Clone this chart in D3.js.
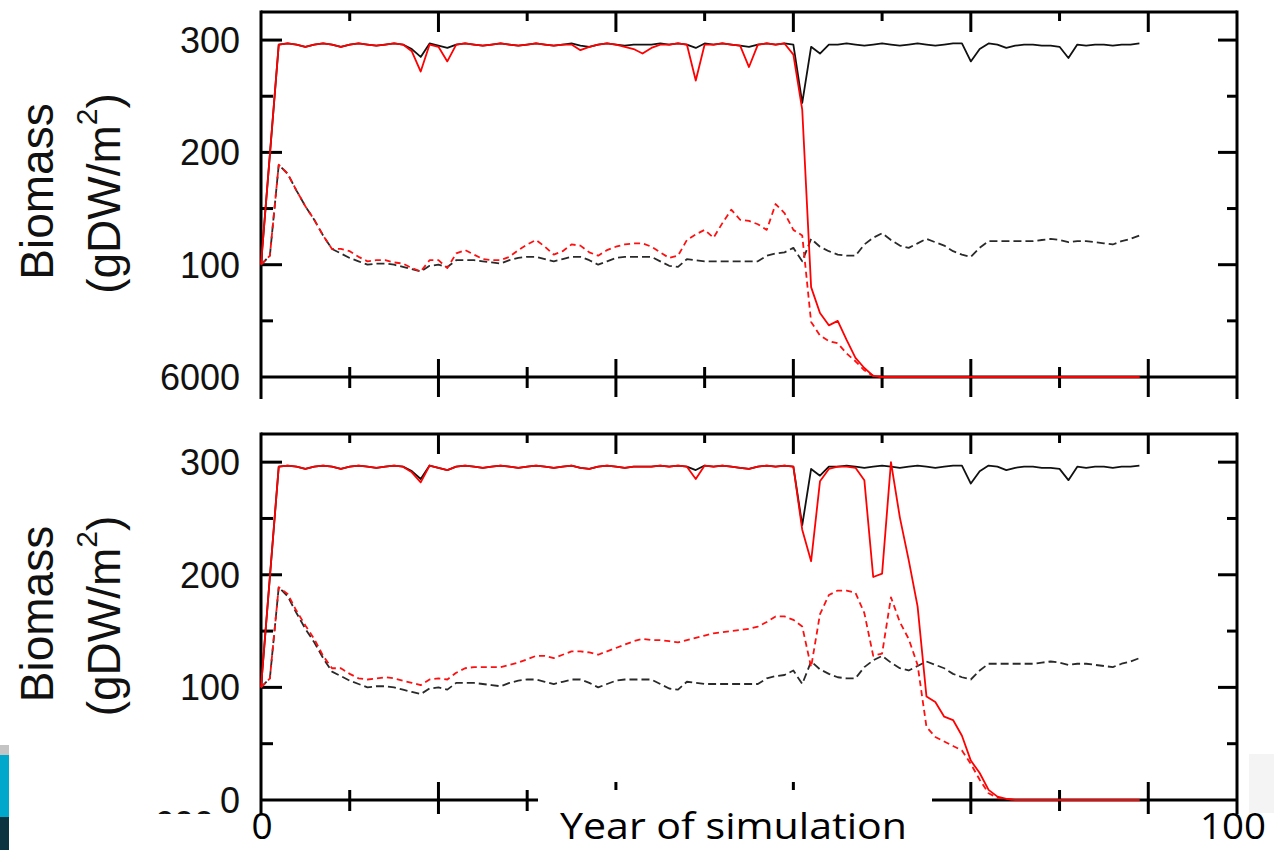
<!DOCTYPE html>
<html>
<head>
<meta charset="utf-8">
<script src="https://cdn.jsdelivr.net/npm/d3@7"></script>
<style>
  html, body { margin: 0; padding: 0; background: #fff; }
  svg { display: block; }
</style>
</head>
<body>
<script>
// Simulation years (annual steps)
const years = d3.range(0, 100);

// Reference run: total biomass (solid) and its lower component (dashed)
const blackSolid = [
  100,198,296,297,296,294,296,297,296,294,
  296,297,296,295,296,297,296,292,285,297,
  295,293,296,297,296,295,296,297,296,295,
  296,297,296,295,296,297,295,294,296,297,
  296,295,296,296,296,297,296,297,296,293,
  297,296,297,296,295,294,296,297,296,297,
  296,244,294,288,296,296,297,296,295,296,
  297,296,295,296,297,296,295,296,297,297,
  281,292,297,296,293,295,296,296,295,295,
  294,284,296,295,296,296,295,296,296,297
];
const blackDashed = [
  100,108,189,181,166,152,140,126,114,110,
  106,103,100,101,101,100,98,96,94,99,
  100,98,104,104,104,103,102,101,104,106,
  107,107,105,103,105,107,107,104,100,103,
  106,107,107,107,107,103,99,98,105,104,
  103,103,103,103,103,103,103,108,110,111,
  115,103,123,116,112,109,108,108,118,124,
  128,122,117,115,119,123,120,117,112,109,
  107,115,121,121,121,121,121,121,122,123,
  122,120,121,121,120,119,118,121,123,126
];

// Upper panel, treated run
const redSolidUpper = [
  100,198,296,297,296,294,296,297,296,294,
  296,297,296,295,296,297,296,290,272,296,
  294,281,296,297,296,295,296,297,296,295,
  296,297,296,295,296,296,291,294,296,297,
  296,294,292,288,293,296,296,297,296,264,
  296,296,297,296,295,276,296,297,296,297,
  287,238,80,57,46,50,33,17,8,1,
  0,0,0,0,0,0,0,0,0,0,
  0,0,0,0,0,0,0,0,0,0,
  0,0,0,0,0,0,0,0,0,0
];
const redDashedUpper = [
  100,108,189,181,166,152,140,126,114,114,
  112,107,103,104,104,102,101,97,94,104,
  104,97,110,113,109,105,104,104,107,113,
  118,122,116,109,112,118,117,111,108,113,
  116,118,119,119,116,111,106,108,122,127,
  131,124,137,149,140,139,136,131,154,146,
  131,126,49,37,32,30,21,14,6,1,
  0,0,0,0,0,0,0,0,0,0,
  0,0,0,0,0,0,0,0,0,0,
  0,0,0,0,0,0,0,0,0,0
];

// Lower panel, treated run
const redSolidLower = [
  100,198,296,297,296,294,296,297,296,294,
  296,297,296,295,296,297,296,291,282,297,
  295,293,296,297,296,295,296,297,296,295,
  296,297,296,295,296,297,295,294,296,297,
  296,295,296,296,296,297,296,297,296,285,
  297,296,297,296,295,294,296,297,296,297,
  296,240,212,283,294,296,296,295,284,198,
  201,300,251,213,172,92,87,74,71,57,
  35,24,9,3,1,0,0,0,0,0,
  0,0,0,0,0,0,0,0,0,0
];
const redDashedLower = [
  100,108,189,183,168,155,143,128,117,117,
  112,108,107,108,109,108,106,104,102,107,
  108,107,113,117,118,118,118,118,120,122,
  125,128,128,126,129,132,132,131,129,132,
  135,138,141,143,142,142,141,140,142,144,
  146,148,149,150,151,152,154,158,163,163,
  160,154,118,165,182,186,186,184,166,128,
  130,180,158,143,120,65,56,52,48,44,
  32,18,6,2,1,0,0,0,0,0,
  0,0,0,0,0,0,0,0,0,0
];

const yTickValues = [0, 50, 100, 150, 200, 250, 300];
const yTickLabelsUpper = { 300: "300", 200: "200", 100: "100", 0: "6000" };
const yTickLabelsLower = { 300: "300", 200: "200", 100: "100", 0: "0" };
const xTickValues = [0, 10, 20, 30, 40, 50, 60, 70, 80, 90, 100, 110];

const W = 1274, H = 850;
const svg = d3.select("body").append("svg")
  .attr("width", W).attr("height", H)
  .attr("viewBox", `0 0 ${W} ${H}`);

svg.append("rect").attr("width", W).attr("height", H).attr("fill", "#fff");

const x = d3.scaleLinear().domain([0, 110]).range([261, 1237]);
const FONT = "'Liberation Sans', Arial, sans-serif";

function drawPanel(opts) {
  const y = d3.scaleLinear().domain([0, 325]).range([opts.bottom, opts.top]);
  const g = svg.append("g");
  const axis = g.append("g").attr("stroke", "#000").attr("stroke-width", 3);
  const [x0, x1] = x.range();
  const yb = y(0), yt = opts.top;

  // frame
  axis.append("line").attr("x1", x0).attr("x2", x1).attr("y1", yt).attr("y2", yt);
  axis.append("line").attr("x1", x0).attr("x2", x1).attr("y1", yb).attr("y2", yb);
  axis.append("line").attr("x1", x0).attr("x2", x0).attr("y1", yt - 1.5).attr("y2", opts.frameExt);
  axis.append("line").attr("x1", x1).attr("x2", x1).attr("y1", yt - 1.5).attr("y2", opts.frameExt);

  // x ticks (bottom: both sides, top: inward)
  xTickValues.filter(v => v > 0 && v < 110).forEach(v => {
    const major = v % 20 === 0;
    axis.append("line").attr("x1", x(v)).attr("x2", x(v))
      .attr("y1", yb - (major ? 18 : 10)).attr("y2", yb + (major ? 20 : 11));
    axis.append("line").attr("x1", x(v)).attr("x2", x(v))
      .attr("y1", yt).attr("y2", yt + (major ? 20 : 9));
  });

  // y ticks, both sides inward
  yTickValues.filter(v => v > 0).forEach(v => {
    const major = v % 100 === 0;
    axis.append("line").attr("x1", x0).attr("x2", x0 + (major ? 21 : 12))
      .attr("y1", y(v)).attr("y2", y(v));
    axis.append("line").attr("x1", x1 - (major ? 19 : 10)).attr("x2", x1)
      .attr("y1", y(v)).attr("y2", y(v));
  });

  // y tick labels
  Object.entries(opts.labels).forEach(([v, t]) => {
    g.append("text").attr("x", 240).attr("y", y(+v)).attr("dy", "0.36em")
      .attr("text-anchor", "end").attr("font-family", FONT).attr("font-size", 36)
      .attr("fill", "#111").text(t);
  });

  // y axis title
  const cy = (opts.top + opts.bottom) / 2;
  g.append("text").attr("transform", `translate(53,${cy - 3}) rotate(-90)`)
    .attr("text-anchor", "middle").attr("font-family", FONT).attr("font-size", 46)
    .attr("fill", "#111").text("Biomass");
  const t2 = g.append("text").attr("transform", `translate(120,${cy - 1}) rotate(-90)`)
    .attr("text-anchor", "middle").attr("font-family", FONT).attr("font-size", 46)
    .attr("fill", "#111");
  t2.append("tspan").text("(gDW/m");
  t2.append("tspan").attr("font-size", 30).attr("dy", -23).text("2");
  t2.append("tspan").attr("dy", 23).text(")");

  const line = d3.line().x((d, i) => x(years[i])).y(d => y(d));
  const series = [
    { data: opts.blackDashed, color: "#2a2a2a", dash: "8,4", w: 1.8 },
    { data: opts.blackSolid, color: "#111", dash: null, w: 1.8 },
    { data: opts.redDashed, color: "#ff1010", dash: "6,4", w: 1.8 },
    { data: opts.redSolid, color: "#ff0000", dash: null, w: 1.8 }
  ];
  series.forEach(s => {
    g.append("path").datum(s.data).attr("d", line)
      .attr("fill", "none").attr("stroke", s.color).attr("stroke-width", s.w)
      .attr("stroke-linejoin", "round")
      .attr("stroke-dasharray", s.dash);
  });
  return y;
}

drawPanel({
  top: 12, bottom: 377, frameExt: 399,
  labels: yTickLabelsUpper,
  blackSolid, blackDashed,
  redSolid: redSolidUpper, redDashed: redDashedUpper
});

// remnant label beneath the lower panel
svg.append("text").attr("x", 214).attr("y", 837).attr("text-anchor", "end")
  .attr("font-family", FONT).attr("font-size", 36).attr("fill", "#111").text("600");

drawPanel({
  top: 434, bottom: 800, frameExt: 816,
  labels: yTickLabelsLower,
  blackSolid, blackDashed,
  redSolid: redSolidLower, redDashed: redDashedLower
});

// cover strip below the lower axis and behind the axis title
svg.append("rect").attr("x", 140).attr("y", 814).attr("width", 1109).attr("height", 36).attr("fill", "#fff");
svg.append("rect").attr("x", 538).attr("y", 790).attr("width", 394).attr("height", 60).attr("fill", "#fff");

// side decorations
svg.append("rect").attr("x", 0).attr("y", 745).attr("width", 9).attr("height", 10).attr("fill", "#c4c4c4");
svg.append("rect").attr("x", 0).attr("y", 755).attr("width", 9).attr("height", 62).attr("fill", "#00a9cc");
svg.append("rect").attr("x", 0).attr("y", 817).attr("width", 9).attr("height", 33).attr("fill", "#0b3440");
svg.append("rect").attr("x", 1249).attr("y", 754).attr("width", 25).attr("height", 59).attr("fill", "#f4f4f4");

// x axis labels
const XFONT = "'Open Sans', 'Noto Sans', sans-serif";
svg.append("text").attr("x", x(0) + 1).attr("y", 839).attr("text-anchor", "middle")
  .attr("font-family", XFONT).attr("font-size", 37).attr("fill", "#000").text("0");
svg.append("text").attr("x", 560).attr("y", 839)
  .attr("font-family", XFONT).attr("font-size", 37).attr("fill", "#000")
  .attr("textLength", 347).attr("lengthAdjust", "spacingAndGlyphs")
  .text("Year of simulation");
svg.append("text").attr("x", 1200).attr("y", 839)
  .attr("font-family", XFONT).attr("font-size", 37).attr("fill", "#000")
  .attr("textLength", 66).attr("lengthAdjust", "spacingAndGlyphs")
  .text("100");
</script>
</body>
</html>
